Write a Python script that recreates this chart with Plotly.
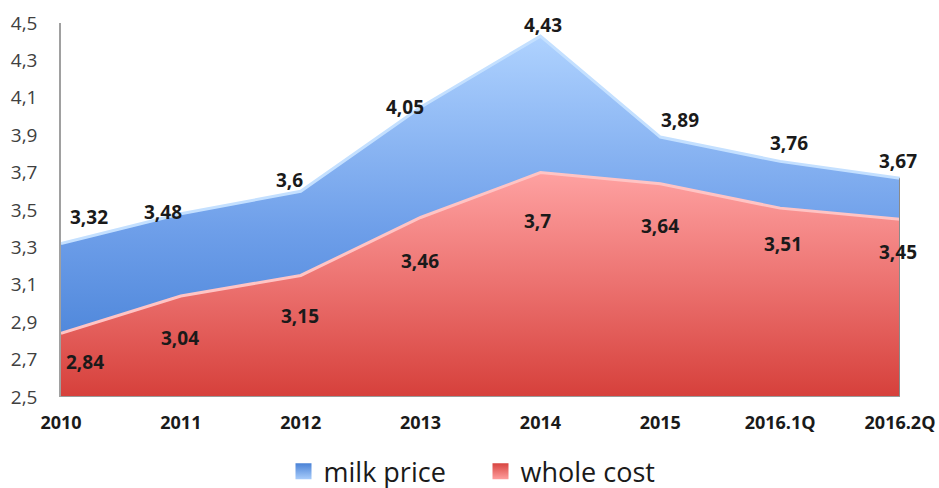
import plotly.graph_objects as go

categories = ["2010", "2011", "2012", "2013", "2014", "2015", "2016.1Q", "2016.2Q"]
milk_price = [3.32, 3.48, 3.60, 4.05, 4.43, 3.89, 3.76, 3.67]
whole_cost = [2.84, 3.04, 3.15, 3.46, 3.70, 3.64, 3.51, 3.45]
y_ticks = [2.5, 2.7, 2.9, 3.1, 3.3, 3.5, 3.7, 3.9, 4.1, 4.3, 4.5]

# label offsets in pixels (style only)
milk_dx = [28, -18, -11, -16, 3, 20, 9, -2]
milk_dy = [27, 2, 11, 0, 11, 17, 18, 17]
cost_dx = [24, -1, -1, -1, -3, 0, 3, -2]
cost_dy = [-29, -42, -41, -44, -48, -42, -36, -33]

xs = list(range(len(categories)))

def fmt(v):
    s = ("%.2f" % v).rstrip("0").rstrip(".")
    return s.replace(".", ",")

fig = go.Figure()
fig.add_trace(go.Scatter(
    x=xs, y=milk_price, name="milk price", mode="lines", showlegend=False,
    line=dict(color="#c4e0ff", width=3),
    fill="tozeroy",
    fillgradient=dict(type="vertical", start=2.5, stop=4.45,
                      colorscale=[[0, "#3f7bd3"], [0.45, "#6d9ee9"], [1, "#b0d3ff"]]),
))
fig.add_trace(go.Scatter(
    x=xs, y=whole_cost, name="whole cost", mode="lines", showlegend=False,
    line=dict(color="#ffc4c4", width=3),
    fill="tozeroy",
    fillgradient=dict(type="vertical", start=2.5, stop=3.72,
                      colorscale=[[0, "#d6403b"], [0.5, "#ec7270"], [1, "#ffa3a3"]]),
))
# legend swatches
fig.add_trace(go.Scatter(
    x=[None], y=[None], name="milk price", mode="markers",
    marker=dict(symbol="square", size=16, color="#4a82d6",
                gradient=dict(type="vertical", color="#a9cdfb"),
                line=dict(width=0)),
))
fig.add_trace(go.Scatter(
    x=[None], y=[None], name="whole cost", mode="markers",
    marker=dict(symbol="square", size=16, color="#d84540",
                gradient=dict(type="vertical", color="#ff9f9f"),
                line=dict(width=0)),
))

ann = []
for i, v in enumerate(milk_price):
    ann.append(dict(x=xs[i], y=v, text="<b>" + fmt(v) + "</b>", showarrow=False,
                    xshift=milk_dx[i], yshift=milk_dy[i],
                    font=dict(family="Open Sans", size=19, color="#1a1a1a")))
for i, v in enumerate(whole_cost):
    ann.append(dict(x=xs[i], y=v, text="<b>" + fmt(v) + "</b>", showarrow=False,
                    xshift=cost_dx[i], yshift=cost_dy[i],
                    font=dict(family="Open Sans", size=19, color="#1a1a1a")))

shapes = [
    dict(type="line", xref="x", yref="y", x0=xs[-1], x1=xs[-1], y0=y_ticks[0], y1=milk_price[-1],
         line=dict(color="#8a8a8a", width=2)),
    dict(type="line", xref="x", yref="y", x0=xs[0], x1=xs[-1], y0=y_ticks[0], y1=y_ticks[0],
         line=dict(color="#9a9a9a", width=2)),
]

fig.update_layout(
    width=939, height=488,
    margin=dict(l=61, r=39, t=23, b=91, autoexpand=False),
    paper_bgcolor="white", plot_bgcolor="white",
    separators=",.",
    showlegend=True,
    legend=dict(orientation="h", x=0.5, xanchor="center", y=-0.200, yanchor="middle",
                font=dict(family="Open Sans", size=27, color="#1a1a1a"),
                itemwidth=30, traceorder="normal", itemsizing="trace",
                entrywidth=152, entrywidthmode="pixels"),
    annotations=ann,
    shapes=shapes,
    xaxis=dict(range=[0, len(categories) - 1], tickvals=xs,
               ticktext=["<b>" + c + "</b>" for c in categories],
               showgrid=False, zeroline=False, showline=False, automargin=False,
               ticks="", ticklabelstandoff=13, ticklabeloverflow="allow",
               tickfont=dict(family="Open Sans", size=18, color="#1a1a1a")),
    yaxis=dict(range=[2.5, 4.5], tickvals=y_ticks, tickformat=".1f", automargin=False,
               showgrid=False, zeroline=False, showline=True, linecolor="#a0a0a0", linewidth=1.5,
               ticks="", ticklabelstandoff=18,
               tickfont=dict(family="Open Sans", size=19, color="#404040")),
)

# remove the default page margin so the figure sits at the window's top-left corner
fig.write_html("out.html", config={"displayModeBar": False},
               post_script="document.body.style.margin='0px';")
